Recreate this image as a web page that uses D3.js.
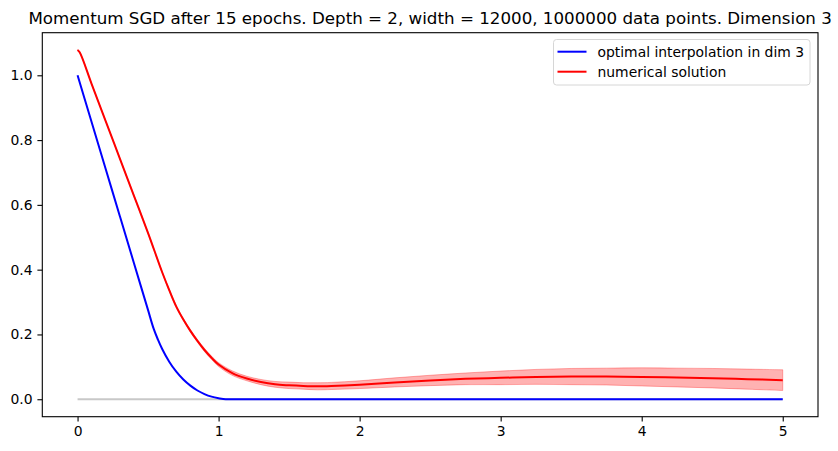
<!DOCTYPE html>
<html>
<head>
<meta charset="utf-8">
<script src="https://cdn.jsdelivr.net/npm/d3@7"></script>
<style>
    body { margin: 0; background: #fff; }
    text { font-family: "DejaVu Sans", sans-serif; fill: #000; }
</style>
</head>
<body>
<div id="demo"></div>
<script>

let optX = [0, 0.1, 0.2, 0.3, 0.4, 0.5, 0.54, 0.57, 0.6, 0.65, 0.7, 0.75, 0.8, 0.85, 0.9, 0.95, 1.0, 1.05, 1.5, 2, 2.5, 3, 3.5, 4, 4.5, 5];
let optY = [1.0, 0.855, 0.71, 0.565, 0.42, 0.275, 0.217, 0.184, 0.155, 0.116, 0.085, 0.061, 0.042, 0.027, 0.016, 0.008, 0.003, 0.0, 0, 0, 0, 0, 0, 0, 0, 0];

let numX = [0, 0.015, 0.1, 0.2, 0.3, 0.4, 0.5, 0.6, 0.65, 0.7, 0.75, 0.8, 0.85, 0.9, 0.95, 1.0, 1.1, 1.2, 1.3, 1.4, 1.5, 1.6, 1.7, 1.8, 2.0, 2.25, 2.5, 2.75, 3.0, 3.25, 3.5, 3.75, 4.0, 4.25, 4.5, 4.75, 5.0];
let numY = [1.078, 1.071, 0.973, 0.858, 0.743, 0.628, 0.513, 0.392, 0.337, 0.286, 0.246, 0.211, 0.180, 0.152, 0.128, 0.107, 0.080, 0.064, 0.053, 0.046, 0.043, 0.041, 0.040, 0.041, 0.045, 0.052, 0.058, 0.063, 0.066, 0.069, 0.070, 0.070, 0.069, 0.067, 0.065, 0.062, 0.059];
let numLow = [1.077, 1.070, 0.972, 0.857, 0.742, 0.626, 0.511, 0.390, 0.334, 0.283, 0.243, 0.207, 0.176, 0.147, 0.123, 0.101, 0.073, 0.057, 0.045, 0.037, 0.033, 0.031, 0.029, 0.030, 0.033, 0.038, 0.042, 0.045, 0.045, 0.046, 0.045, 0.044, 0.041, 0.038, 0.035, 0.031, 0.027];
let numHigh = [1.079, 1.072, 0.974, 0.859, 0.744, 0.630, 0.515, 0.394, 0.340, 0.289, 0.249, 0.215, 0.184, 0.157, 0.133, 0.113, 0.087, 0.071, 0.061, 0.055, 0.053, 0.051, 0.051, 0.052, 0.057, 0.066, 0.074, 0.081, 0.087, 0.092, 0.095, 0.096, 0.097, 0.096, 0.095, 0.093, 0.091];

let zeroX = [0, 5];
let zeroY = [0, 0];

let xTicks = [0, 1, 2, 3, 4, 5];
let yTicks = [0.0, 0.2, 0.4, 0.6, 0.8, 1.0];

let titleText = "Momentum SGD after 15 epochs. Depth = 2, width = 12000, 1000000 data points. Dimension 3";
let legendNames = ["optimal interpolation in dim 3", "numerical solution"];
let legendColors = ["blue", "red"];

// plot area in page pixels
let m = {top: 32.7, right: 20, bottom: 34.3, left: 42.3};
let W = 838;
let H = 451;
let w = W - m.left - m.right;
let h = H - m.top - m.bottom;

let svg = d3.select("#demo")
    .append("svg")
    .attr("width", W)
    .attr("height", H);

const g = svg.append("g").attr("transform", "translate(" + m.left + "," + m.top + ")");

let x = d3.scaleLinear()
    .domain([-0.25, 5.25])
    .range([0, w]);

let y = d3.scaleLinear()
    .domain([-0.0539, 1.1315])
    .range([h, 0]);

// axes
const xAxis = d3.axisBottom(x).tickValues(xTicks).tickFormat(d3.format("d")).tickSize(4.9).tickPadding(4.9);
const yAxis = d3.axisLeft(y).tickValues(yTicks).tickFormat(d3.format(".1f")).tickSize(4.9).tickPadding(4.9);

let gx = g.append("g")
    .attr("transform", "translate(0," + h + ")")
    .call(xAxis);
let gy = g.append("g")
    .call(yAxis);

[gx, gy].forEach((a) => {
    a.select(".domain").remove();
    a.selectAll(".tick line").attr("stroke", "#000").attr("stroke-width", 1.1);
    a.selectAll(".tick text").attr("font-size", "13.9px").attr("fill", "#000");
});

let pts = (xs, ys) => xs.map((d, i) => [d, ys[i]]);

let smooth = d3.line()
    .x(d => x(d[0]))
    .y(d => y(d[1]))
    .curve(d3.curveCatmullRom.alpha(0.5));

let mono = d3.line()
    .x(d => x(d[0]))
    .y(d => y(d[1]))
    .curve(d3.curveMonotoneX);

// zero reference line
g.append("path")
    .datum(pts(zeroX, zeroY))
    .attr("d", mono)
    .attr("fill", "none")
    .attr("stroke", "#c8c8c8")
    .attr("stroke-width", 2);

// optimal interpolation
g.append("path")
    .datum(pts(optX, optY))
    .attr("d", mono)
    .attr("fill", "none")
    .attr("stroke", "blue")
    .attr("stroke-width", 2);

// spread band of numerical solution
let area = d3.area()
    .x((d, i) => x(numX[i]))
    .y0((d, i) => y(numLow[i]))
    .y1((d, i) => y(numHigh[i]))
    .curve(d3.curveCatmullRom.alpha(0.5));

g.append("path")
    .datum(numX)
    .attr("d", area)
    .attr("fill", "red")
    .attr("fill-opacity", 0.3)
    .attr("stroke", "red")
    .attr("stroke-opacity", 0.3)
    .attr("stroke-width", 1);

g.append("path")
    .datum(pts(numX, numY))
    .attr("d", smooth)
    .attr("fill", "none")
    .attr("stroke", "red")
    .attr("stroke-width", 2);

// frame
g.append("rect")
    .attr("width", w)
    .attr("height", h)
    .attr("fill", "none")
    .attr("stroke", "#000")
    .attr("stroke-width", 1.1);

// title
svg.append("text")
    .attr("x", m.left + w / 2)
    .attr("y", 24.3)
    .attr("text-anchor", "middle")
    .attr("font-size", "16.7px")
    .text(titleText);

// legend
const legend = svg.append("g")
    .attr("transform", "translate(553.5,39.5)");

legend.append("rect")
    .attr("width", 256.5)
    .attr("height", 45.5)
    .attr("rx", 3)
    .attr("fill", "#fff")
    .attr("fill-opacity", 0.8)
    .attr("stroke", "#d6d6d6")
    .attr("stroke-width", 1);

legendNames.forEach((name, i) => {
    legend.append("line")
        .attr("x1", 4)
        .attr("x2", 33)
        .attr("y1", 12.2 + i * 20)
        .attr("y2", 12.2 + i * 20)
        .attr("stroke", legendColors[i])
        .attr("stroke-width", 2);
    legend.append("text")
        .attr("x", 44)
        .attr("y", 12.2 + i * 20 + 5)
        .attr("font-size", "13.9px")
        .text(name);
});

</script>
</body>
</html>
